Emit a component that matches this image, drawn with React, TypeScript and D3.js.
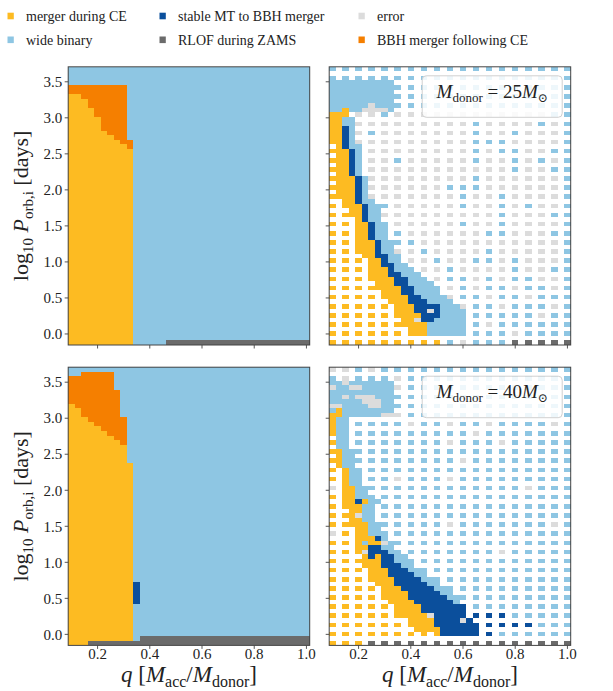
import React from "react";
import * as d3 from "d3";

// ---------- classes ----------
const CLASS_CODES = ["Y", "W", "S", "G", "E", "O"];
const CLASS_COLORS = ["#fdbb22", "#8ec6e3", "#0b4f9c", "#6b6b6b", "#dcdcdc", "#f57f00"];
const LEGEND_ROW1 = [
  { code: "Y", label: "merger during CE" },
  { code: "S", label: "stable MT to BBH merger" },
  { code: "E", label: "error" },
];
const LEGEND_ROW2 = [
  { code: "W", label: "wide binary" },
  { code: "G", label: "RLOF during ZAMS" },
  { code: "O", label: "BBH merger following CE" },
];

// ---------- grid axes ----------
const Q_START = 0.1;
const Q_STEP = 0.025;
const N_Q = 37;
const LOGP_START = -0.1215;
const LOGP_STEP = 0.0633;
const N_P = 61;
const X_TICKS = [0.2, 0.4, 0.6, 0.8, 1.0];
const Y_TICKS = [0, 0.5, 1.0, 1.5, 2.0, 2.5, 3.0, 3.5];

// ---------- left panels (dense grids) : per q-column boundaries (row index) ----------
const LEFT25_YELLOW_TOP = [54, 54, 53, 51, 49, 46, 45, 44, 43, 42];
const LEFT25_ORANGE_TOP = [56, 56, 56, 56, 56, 56, 56, 56, 56, 44];
const LEFT25_RLOF: [number, number, number][] = [[0, 15, 36]]; // [row, fromCol, toCol]
const LEFT25_STABLE: [number, number, number][] = []; // [col, fromRow, toRow]

const LEFT40_YELLOW_TOP = [52, 51, 49, 48, 47, 46, 45, 44, 43, 39];
const LEFT40_ORANGE_TOP = [58, 58, 59, 59, 59, 59, 59, 55, 49, -1];
const LEFT40_RLOF: [number, number, number][] = [[0, 3, 36], [1, 11, 36]];
const LEFT40_STABLE: [number, number, number][] = [[10, 9, 13]];

// ---------- right panels: coarse samples (rows logP index 60,58,...,0; cols q index 0,2,...,36) ----------
const R25_SPARSE = [
  "WWWWWWWWWWWWWWWWWWW", // 60
  "WWWWWWWWWWWWWWWWWWW", // 58
  "WWWWWWWWWWWWWWWWWWW", // 56
  "WWWWWWWWWWWWWWWWWWW", // 54
  "WWWWWWWWWWWWWWWWWWW", // 52
  "YYEEWEEEEEEEEEEEEWW", // 50
  "YYEEEEEEEEEWEEEEWEW", // 48
  "YYEWEEEEEEEWEEWEEEW", // 46
  "YYEEEEEEEEEWWWEEEEW", // 44
  "YYEEEEEEEEEWEWWEEWW", // 42
  "YYEEEWEEEEEWEEWEWEW", // 40
  "YYEEEEEEEEEEEEWEEWW", // 38
  "YYEEEEEEEEEWEEEEEEW", // 36
  "YYEEEEEEEWWWEEEEEEW", // 34
  "YYEEEEEEEEWEEWEEEEW", // 32
  "YYYEWEEEEEWEEWEWEEW", // 30
  "YYYYEEEEEEEEEWEEEWW", // 28
  "YYYYEEEEEEWEEWEEEEW", // 26
  "YYYYEWEEEEEEWWEEEWW", // 24
  "YYYYEWWEEEEEEEEEEEW", // 22
  "YYYYYEEWEEEEWEEEEEW", // 20
  "YYYYYEEEWEEWWEWEEEW", // 18
  "YYYYYYEEEWEEEEWEEWW", // 16
  "YYYYYYYEEWWEWEWWEEW", // 14
  "YYYYYYYEEEWEWWEWWEW", // 12
  "YYYYYYYYYEWWEWWEWWW", // 10
  "YYYYYYYYYYEWWEWWWEW", // 8
  "YYYYYYYYYYWWWWWWEWW", // 6
  "YYYYYYYYYYWWEWWWWWW", // 4
  "YYYYYYYYYYWWWWEWWWW", // 2
  "YYYYYYYYYWEWWWGGGGG", // 0
];
// refined region: [row, firstCol, classes]
const R25_DENSE: [number, number, string][] = [
  [57, 0, "WWWWWWWWWW"], [56, 0, "WWWWWWWWWW"], [55, 0, "WWWWWWWWWW"], [54, 0, "WWWWWWWWWW"],
  [53, 0, "WWWWWWWWWW"], [52, 0, "WWWWWWEWWW"], [51, 0, "WWYWWEEEEW"], [50, 0, "YYY"],
  [49, 0, "YYWW"], [48, 0, "YYWW"], [47, 0, "YYSW"], [46, 0, "YYSW"], [45, 0, "YYSW"], [44, 0, "YYSW"],
  [43, 0, ".YSWW"], [42, 0, "YYYSW"], [41, 0, ".YYSW"], [40, 0, "YYYSW"], [39, 0, ".YYSW"],
  [38, 0, "YYYSW"], [37, 0, ".YYSW"], [36, 0, "YYYYSW"], [35, 0, ".YYYSW"], [34, 0, "YYYYSW"],
  [33, 0, ".YYYSW"], [32, 0, "YYYYSW"], [31, 0, "..YYSWW"], [30, 3, "YYSWW"], [29, 3, "YYSWW"],
  [28, 3, "YYSWW"], [27, 4, "YSWW"], [26, 4, "YYSWW"], [25, 4, "YYSWW"], [24, 4, "YYSWW"],
  [23, 4, "YYSWW"], [22, 4, "YYYSWW"], [21, 4, "YYYSWW"], [20, 4, "YYYSWW"], [19, 5, "YYSSWW"],
  [18, 6, "YYSWW"], [17, 6, "YYSSWW"], [16, 6, "YYYSWWW"], [15, 6, "YYYSSWWW"], [14, 7, "YYYSSWWW"],
  [13, 7, "YYYSSWWWW"], [12, 7, "YYYYSSWWWW"], [11, 8, "YYYSSWWWW"], [10, 8, "YYYYSSWWWW"],
  [9, 9, "YYYSSSWWWW"], [8, 10, "YYYSSSSWWW"], [7, 10, "YYYSSESWWWW"], [6, 10, "YYYYSSSWWWW"],
  [5, 11, "YYESSWWWWW"], [4, 11, "YYYYWWWWWW"], [3, 12, "YYYWWWWWW"], [2, 12, "YYYWWWWWW"],
];

const R40_SPARSE = [
  "EEWEWWWWWWWWWWWWWWW", // 60
  "WEWWWEWWWWWWWWWWWWW", // 58
  "WWWWWEWWWWWWWWWWWWW", // 56
  "WWWWWWWWWWWWWWWWWWW", // 54
  "WWWWWWWWWWWWWWWWWWW", // 52
  "YWWWWEWWWWWWWWWWWWW", // 50
  "YWWWWWEWWEWWEWWWWEW", // 48
  "YWWWWWWWWWWEWWWWWWW", // 46
  "YWWWWWWWWEWWWEWWWWW", // 44
  "YWWWWWWWWWWWWWWWWWW", // 42
  "YWWWWWWWWWEWWWWWWWW", // 40
  "YWWWWWWWWWWWWWWWWWW", // 38
  "YWWWWEWWWEWWWWWWWWW", // 36
  "EYWWWWWWWWWWWWWEWWW", // 34
  "YYWWWWWWWWWWWWWWWWW", // 32
  "YYYWWWWWWWWWWWWWWWW", // 30
  "YYYWWWWWWWWWWWWWWWW", // 28
  "YYYYWWWWWEWWWWWWWEW", // 26
  "EYYWWWWWWWWWWWWWWWW", // 24
  "YYYYWWWWWWWWWWWWWWW", // 22
  "YYYYYWWWWWWWWEWWWWW", // 20
  "YYYYYWWWWWWWWWWWWWW", // 18
  "YYYYYYWWWWWWWWWWWWW", // 16
  "YYYYYYYWWWWWWWWWWWW", // 14
  "YYYYYYYYWWWWWWWWWWW", // 12
  "YYYYYYYYYWWWWWWWWWW", // 10
  "YYYYYYYYYYSWWWWWWWW", // 8
  "YYYYYYYYYYWSSSWWWWW", // 6
  "YYYYYYYYYYWWSSSSWWW", // 4
  "YYYYYYYYYWWWSWWWWWW", // 2
  "YYYGGGGGGGGGGGGGGGG", // 0
];
const R40_DENSE: [number, number, string][] = [
  [57, 0, "WWEWWWWWWW"], [56, 0, "EWWEEWWWWW"], [55, 0, "WWWWWWWWWW"], [54, 0, "WWEWEEEWWW"],
  [53, 0, "WWWWWEEEWW"], [52, 0, "EEWWWWEEWW"], [51, 0, "WYWWWWWWWW"], [50, 0, "YYWWWWWWEE"],
  [49, 0, "YWW"], [48, 0, "YWW"], [47, 0, "YWW"], [46, 0, "YWW"], [45, 0, ".WW"], [44, 0, "YWW"],
  [43, 0, ".WW"], [42, 0, "YYWW"], [41, 0, ".YWW"], [40, 0, "YYWW"], [39, 0, ".YWW"],
  [38, 0, "Y.YWW"], [37, 0, "..YWW"], [36, 0, "Y.YWW"], [35, 0, "..YWW"], [34, 0, "E.YYWW"],
  [33, 0, "..YYWW"], [32, 0, "Y.YYWW"], [31, 2, "YYSYWW"], [30, 2, "YYYWW"], [29, 3, "YYWW"],
  [28, 3, "YEWW"], [27, 3, "YYWW"], [26, 3, "YYYWW"], [25, 4, "YYWW"], [24, 4, "YYWW"],
  [23, 4, "YYYSW"], [22, 4, "YWYYEW"], [21, 4, "YYSSWW"], [20, 4, "YESSSWW"], [19, 5, "YSYSSWW"],
  [18, 5, "YYYSSWW"], [17, 5, "YYYSSSWW"], [16, 6, "YYYSSSWW"], [15, 6, "YYYSSSSWW"],
  [14, 7, "YYYSSSSWW"], [13, 7, "YYYSSSSSWW"], [12, 8, "YYYSSSSSWW"], [11, 8, "YYYYSSSSSWW"],
  [10, 9, "YYYSSSSSSWW"], [9, 9, "YYYYSSSSSSW"], [8, 10, "YYYYSSSSSS"], [7, 10, "YYYYSSSSSSS"],
  [6, 11, "YYYYESSSSS"], [5, 12, "YYYYSSSSES"], [4, 12, "YYYYSSSSSSS"], [3, 13, "YYYYSSSSSS"],
  [2, 16, "YSSSSSS"],
];

// ---------- grid builders ----------
const emptyGrid = (fill: string) => d3.range(N_P).map(() => d3.range(N_Q).map(() => fill));

function buildLeft(yTop: number[], oTop: number[], rlof: [number, number, number][], stable: [number, number, number][]) {
  const g = emptyGrid("W");
  yTop.forEach((top, j) => {
    for (let i = 0; i <= top; i++) g[i][j] = "Y";
    for (let i = top + 1; i <= oTop[j]; i++) g[i][j] = "O";
  });
  rlof.forEach(([i, j0, j1]) => { for (let j = j0; j <= j1; j++) g[i][j] = "G"; });
  stable.forEach(([j, i0, i1]) => { for (let i = i0; i <= i1; i++) g[i][j] = "S"; });
  return g;
}
function buildRight(sparse: string[], dense: [number, number, string][]) {
  const g = emptyGrid(".");
  sparse.forEach((row, r) => {
    const i = N_P - 1 - 2 * r;
    for (let k = 0; k < row.length && 2 * k < N_Q; k++) g[i][2 * k] = row[k];
  });
  dense.forEach(([i, j0, s]) => { for (let t = 0; t < s.length; t++) if (j0 + t < N_Q) g[i][j0 + t] = s[t]; });
  return g;
}

const colorOf = (c: string) => CLASS_COLORS[CLASS_CODES.indexOf(c)];

// ---------- layout ----------
const PW = 241.5;
const PH = 278.2;
const FONT = "'Liberation Serif', 'Times New Roman', Times, 'DejaVu Serif', serif";
const TEXT = "#222";
const FRAME = "#444";

const xScale = d3.scaleLinear().domain([Q_START - Q_STEP / 2, Q_START + (N_Q - 0.5) * Q_STEP]).range([0, PW]);
const yScale = d3.scaleLinear().domain([LOGP_START - LOGP_STEP / 2, LOGP_START + (N_P - 0.5) * LOGP_STEP]).range([PH, 0]);

function Panel(props: { grid: string[][]; left: number; top: number; xLabels: boolean; yLabels: boolean; mass?: string }) {
  const { grid, left, top, xLabels, yLabels, mass } = props;
  const cells: React.ReactElement[] = [];
  grid.forEach((row, i) => {
    row.forEach((c, j) => {
      if (c === ".") return;
      const q = Q_START + j * Q_STEP;
      const lp = LOGP_START + i * LOGP_STEP;
      const x0 = xScale(q - Q_STEP / 2);
      const x1 = xScale(q + Q_STEP / 2);
      const y0 = yScale(lp + LOGP_STEP / 2);
      const y1 = yScale(lp - LOGP_STEP / 2);
      cells.push(<rect key={`${i}-${j}`} x={x0} y={y0} width={x1 - x0} height={y1 - y0} fill={colorOf(c)} />);
    });
  });
  return (
    <g transform={`translate(${left},${top})`}>
      <g shapeRendering="crispEdges">{cells}</g>
      {mass && (
        <g>
          <rect x={93} y={9} width={140} height={41.5} rx={4} fill="#fff" fillOpacity={0.85} stroke="#d0d0d0" strokeWidth={1} />
          <text x={163} y={31} textAnchor="middle" fontFamily={FONT} fontSize={19} fill={TEXT}>
            <tspan fontStyle="italic">M</tspan>
            <tspan fontSize={13} dy={4}>donor</tspan>
            <tspan dy={-4}>{` = ${mass}`}</tspan>
            <tspan fontStyle="italic">M</tspan>
            <tspan fontSize={12} dy={4}>⊙</tspan>
          </text>
        </g>
      )}
      <rect x={0} y={0} width={PW} height={PH} fill="none" stroke={FRAME} strokeWidth={1} />
      {Y_TICKS.map((t) => (
        <g key={`y${t}`} transform={`translate(0,${yScale(t)})`}>
          <line x1={-3.5} x2={0} stroke={FRAME} strokeWidth={0.9} />
          {yLabels && (
            <text x={-6} dy="0.35em" textAnchor="end" fontFamily={FONT} fontSize={15} fill={TEXT}>
              {t.toFixed(1)}
            </text>
          )}
        </g>
      ))}
      {X_TICKS.map((t) => (
        <g key={`x${t}`} transform={`translate(${xScale(t)},${PH})`}>
          <line y1={0} y2={3.5} stroke={FRAME} strokeWidth={0.9} />
          {xLabels && (
            <text y={13.5} textAnchor="middle" fontFamily={FONT} fontSize={15} fill={TEXT}>
              {t.toFixed(1)}
            </text>
          )}
        </g>
      ))}
    </g>
  );
}

function YTitle({ cy }: { cy: number }) {
  return (
    <text transform={`translate(28,${cy}) rotate(-90)`} textAnchor="middle" fontFamily={FONT} fontSize={22} fill={TEXT}>
      log<tspan fontSize={15} dy={5}>10</tspan>
      <tspan dy={-5}> </tspan>
      <tspan fontStyle="italic">P</tspan>
      <tspan fontSize={15} dy={5}>orb,i</tspan>
      <tspan dy={-5}> [days]</tspan>
    </text>
  );
}

function XTitle({ cx }: { cx: number }) {
  return (
    <text x={cx} y={682} textAnchor="middle" fontFamily={FONT} fontSize={23} fill={TEXT}>
      <tspan fontStyle="italic">q</tspan>
      <tspan> [</tspan>
      <tspan fontStyle="italic">M</tspan>
      <tspan fontSize={16} dy={5}>acc</tspan>
      <tspan dy={-5}>/</tspan>
      <tspan fontStyle="italic">M</tspan>
      <tspan fontSize={16} dy={5}>donor</tspan>
      <tspan dy={-5}>]</tspan>
    </text>
  );
}

export default function App() {
  const left25 = buildLeft(LEFT25_YELLOW_TOP, LEFT25_ORANGE_TOP, LEFT25_RLOF, LEFT25_STABLE);
  const left40 = buildLeft(LEFT40_YELLOW_TOP, LEFT40_ORANGE_TOP, LEFT40_RLOF, LEFT40_STABLE);
  const right25 = buildRight(R25_SPARSE, R25_DENSE);
  const right40 = buildRight(R40_SPARSE, R40_DENSE);
  const LX = 68.2, RX = 329.2, TY = 66.8, BY = 367.2;
  const legendCols = [7.5, 159.5, 358.5];
  const textCols = [26, 178, 377];
  return (
    <svg width={613} height={691} style={{ position: "absolute", left: 0, top: 0, background: "#fff" }}>
      <rect width={613} height={691} fill="#fff" />
      {[LEGEND_ROW1, LEGEND_ROW2].map((row, r) =>
        row.map((it, c) => (
          <g key={`lg${r}${c}`}>
            <rect x={legendCols[c]} y={r === 0 ? 12.7 : 36.5} width={6.3} height={6.6} fill={colorOf(it.code)} />
            <text x={textCols[c]} y={r === 0 ? 21 : 44.7} fontFamily={FONT} fontSize={14} fill={TEXT}>
              {it.label}
            </text>
          </g>
        ))
      )}
      <Panel grid={left25} left={LX} top={TY} xLabels={false} yLabels={true} />
      <Panel grid={right25} left={RX} top={TY} xLabels={false} yLabels={false} mass="25" />
      <Panel grid={left40} left={LX} top={BY} xLabels={true} yLabels={true} />
      <Panel grid={right40} left={RX} top={BY} xLabels={true} yLabels={false} mass="40" />
      <YTitle cy={TY + PH / 2} />
      <YTitle cy={BY + PH / 2} />
      <XTitle cx={LX + PW / 2} />
      <XTitle cx={RX + PW / 2} />
    </svg>
  );
}
